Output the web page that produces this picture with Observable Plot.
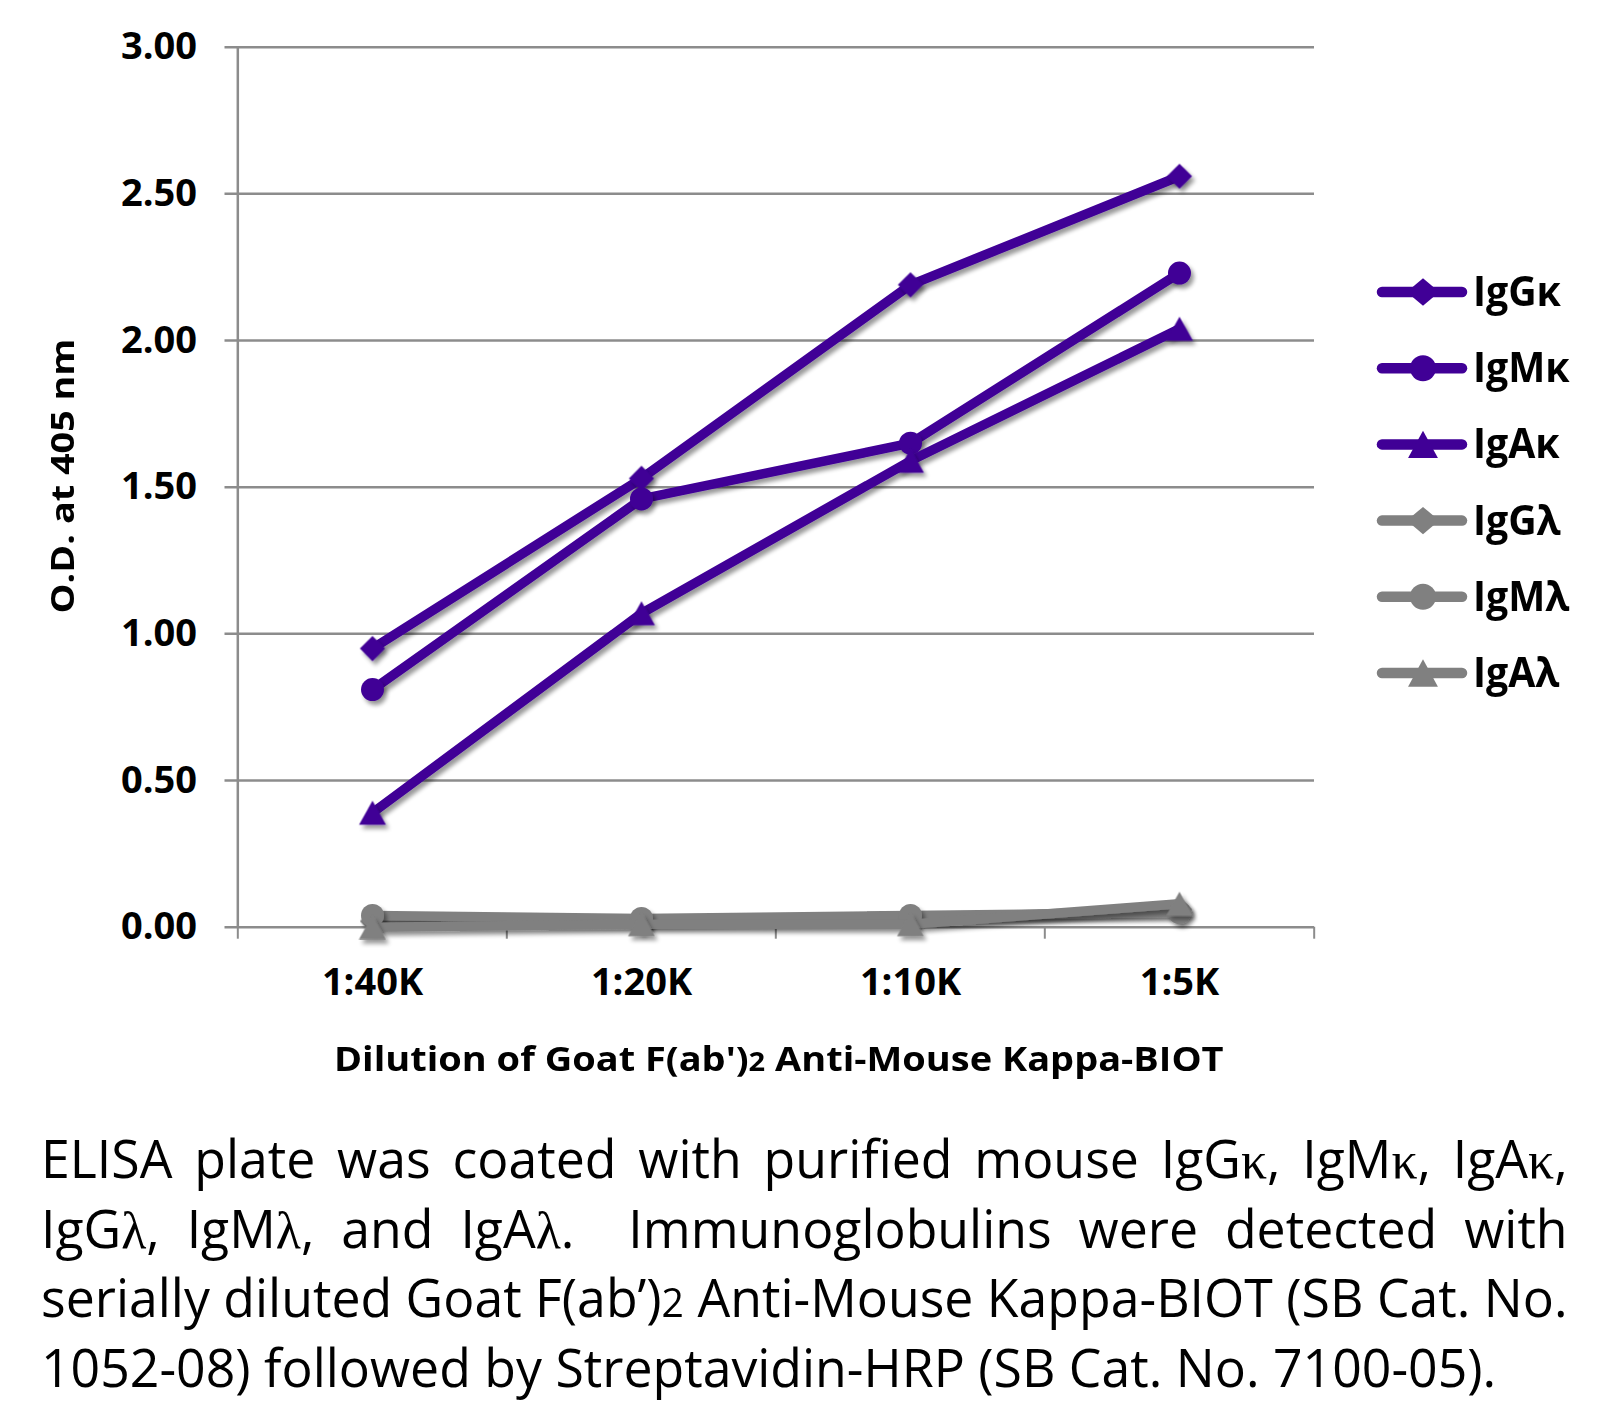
<!DOCTYPE html>
<html><head><meta charset="utf-8">
<script src="https://cdn.jsdelivr.net/npm/d3@7"></script>
<script src="https://cdn.jsdelivr.net/npm/@observablehq/plot@0.6"></script>
<style>
html,body{margin:0;padding:0;background:#fff;overflow:hidden}
#wrap{position:relative;width:1605px;height:1403px;background:#fff}
#wrap svg{position:absolute;left:0;top:0}
</style></head><body><div id="wrap"></div>
<script>
// ---- data ----
const dilutions = ["1:40K", "1:20K", "1:10K", "1:5K"];
const seriesNames = ["IgGκ", "IgMκ", "IgAκ", "IgGλ", "IgMλ", "IgAλ"];
const seriesShapes = ["diamond", "circle", "triangle", "diamond", "circle", "triangle"];
const seriesColors = ["#400096", "#400096", "#400096", "#808080", "#808080", "#808080"];
const IgGk = [0.95, 1.53, 2.19, 2.56];
const IgMk = [0.81, 1.46, 1.65, 2.23];
const IgAk = [0.39, 1.07, 1.59, 2.04];
const IgGl = [0.02, 0.02, 0.03, 0.06];
const IgMl = [0.04, 0.03, 0.04, 0.05];
const IgAl = [0.00, 0.01, 0.01, 0.08];
const seriesValues = [IgGk, IgMk, IgAk, IgGl, IgMl, IgAl];
const yTicks = [0, 0.5, 1, 1.5, 2, 2.5, 3];
const yLabel = "O.D. at 405 nm";
const xLabel = "Dilution of Goat F(ab')2 Anti-Mouse Kappa-BIOT";
const captionLines = [
  "ELISA plate was coated with purified mouse IgGκ, IgMκ, IgAκ,",
  "IgGλ, IgMλ, and IgAλ.  Immunoglobulins were detected with",
  "serially diluted Goat F(ab’)2 Anti-Mouse Kappa-BIOT (SB Cat. No.",
  "1052-08) followed by Streptavidin-HRP (SB Cat. No. 7100-05)."
];

// ---- build table ----
const rows = [];
seriesNames.forEach((s, i) => seriesValues[i].forEach((v, j) => rows.push({series: s, dilution: dilutions[j], value: v})));

// ---- symbols ----
function diamondSym(wf, hf) {
  return {draw(c, size) { const r = Math.sqrt(size / Math.PI); c.moveTo(0, -r * hf); c.lineTo(r * wf, 0); c.lineTo(0, r * hf); c.lineTo(-r * wf, 0); c.closePath(); }};
}
function triangleSym(wf, hf) {
  return {draw(c, size) { const r = Math.sqrt(size / Math.PI); c.moveTo(0, -r * hf); c.lineTo(r * wf, r * hf); c.lineTo(-r * wf, r * hf); c.closePath(); }};
}
const chartSymbols = {diamond: diamondSym(1.05, 1.05), circle: "circle", triangle: triangleSym(1.12, 1.0)};

// ---- layout ----
const W = 1605, H = 1010;
const mL = 236.5, mR = 291, mT = 46.7, mB = H - 926.7;
const step = (W - mL - mR) / dilutions.length;
const axisGrey = "#8c8c8c";

const seriesMarks = [];
seriesNames.forEach((s, i) => {
  const data = rows.filter(d => d.series === s);
  seriesMarks.push(Plot.line(data, {x: "dilution", y: "value", stroke: seriesColors[i], strokeWidth: 9.5, strokeLinecap: "round", strokeLinejoin: "round"}));
  seriesMarks.push(Plot.dot(data, {x: "dilution", y: "value", symbol: chartSymbols[seriesShapes[i]], r: seriesShapes[i] === "circle" ? 11.5 : 12, fill: seriesColors[i], stroke: "none"}));
});

const chart = Plot.plot({
  width: W, height: H,
  marginLeft: mL, marginRight: mR, marginTop: mT, marginBottom: mB,
  style: {fontFamily: "'Open Sans', sans-serif", fontSize: "38px", fontWeight: "700", color: "#000", background: "transparent", overflow: "visible"},
  x: {type: "point", domain: dilutions, padding: 0.5, tickSize: 0, tickPadding: 41, label: null},
  y: {domain: [0, 3], ticks: yTicks, tickFormat: d => d.toFixed(2), tickSize: 0, tickPadding: 40, label: null},
  marks: [
    Plot.ruleY(yTicks, {y: d => d, stroke: axisGrey, strokeWidth: 2.5, insetLeft: -12}),
    Plot.ruleX([dilutions[0]], {x: d => d, dx: -step / 2, stroke: axisGrey, strokeWidth: 2.5}),
    Plot.ruleX(dilutions, {x: d => d, y1: 0, y2: 0, dx: -step / 2, insetBottom: -12, stroke: axisGrey, strokeWidth: 2}),
    Plot.ruleX([dilutions[dilutions.length - 1]], {x: d => d, y1: 0, y2: 0, dx: step / 2, insetBottom: -12, stroke: axisGrey, strokeWidth: 2}),
    ...seriesMarks
  ]
});
const wrap = document.getElementById("wrap");
wrap.appendChild(chart);

// drop shadow for the series
const svg = d3.select(chart);
svg.insert("defs", ":first-child").html(
  '<filter id="ds" filterUnits="userSpaceOnUse" x="0" y="0" width="1605" height="1010">' +
  '<feGaussianBlur in="SourceAlpha" stdDeviation="2.2"/><feOffset dx="3" dy="4" result="o"/>' +
  '<feComponentTransfer><feFuncA type="linear" slope="0.4"/></feComponentTransfer>' +
  '<feMerge><feMergeNode/><feMergeNode in="SourceGraphic"/></feMerge></filter>');
svg.selectAll('g[aria-label="line"], g[aria-label="dot"]').attr("filter", "url(#ds)");

// ---- overlay text: axis titles, legend, caption ----
const ov = d3.select(wrap).append("svg").attr("width", W).attr("height", 1403)
  .style("font-family", "'Open Sans', sans-serif");

// y title
const yt = ov.append("text").attr("text-anchor", "middle").style("font-weight", 700).style("font-size", "32px").text(yLabel);
const kY = 275 / yt.node().getComputedTextLength();
yt.attr("transform", `translate(${63 + 11},476) rotate(-90) scale(${kY},1)`);

// x title (small subscript-like 2)
const xt = ov.append("text").style("font-weight", 700).style("font-size", "34px");
xLabel.split(/((?<=\))2)/).forEach(part => {
  if (part === "2") xt.append("tspan").style("font-size", "26px").text(part);
  else xt.append("tspan").text(part);
});
const kX = 890 / xt.node().getComputedTextLength();
xt.attr("transform", `translate(334,1071) scale(${kX},1)`);

// legend
const legX0 = 1377, legX1 = 1467, legMid = 1423, legTextX = 1473, legY0 = 292, legDY = 76.2;
const legSymbols = {diamond: diamondSym(1.25, 1.05), circle: d3.symbolCircle, triangle: triangleSym(1.15, 1.05)};
const legTexts = [];
seriesNames.forEach((s, i) => {
  const y = legY0 + i * legDY;
  const g = ov.append("g");
  g.append("line").attr("x1", legX0 + 5).attr("x2", legX1 - 5).attr("y1", y).attr("y2", y)
    .attr("stroke", seriesColors[i]).attr("stroke-width", 10.5).attr("stroke-linecap", "round");
  g.append("path").attr("transform", `translate(${legMid},${y})`)
    .attr("d", d3.symbol(legSymbols[seriesShapes[i]], 13 * 13 * Math.PI)()).attr("fill", seriesColors[i]);
  const t = g.append("text").attr("x", 0).attr("y", 0).style("font-weight", 700).style("font-size", "41px").text(s);
  legTexts.push([t, y]);
});
const kL = 88 / legTexts[0][0].node().getComputedTextLength();
legTexts.forEach(([t, y]) => t.attr("transform", `translate(${legTextX},${y + 14}) scale(${kL},1)`));

// caption
const capLeft = 41, capFull = 1527, capLast = 1456, capY0 = 1178, capDY = 69.6;
const capTexts = captionLines.map((line, i) => {
  const t = ov.append("text").style("font-size", "53px").style("font-weight", 400).style("white-space", "pre");
  line.split(/([κλ]|(?<=[’)])2(?= ))/).forEach(part => {
    if (!part) return;
    if (part === "κ" || part === "λ") t.append("tspan").style("font-family", "'Liberation Serif', serif").text(part);
    else if (part === "2") t.append("tspan").style("font-size", "40px").text(part);
    else t.append("tspan").text(part);
  });
  return t;
});
const ks = capTexts.map((t, i) => (i < 3 ? capFull : capLast) / t.node().getComputedTextLength());
const kC = Math.min(...ks);
capTexts.forEach((t, i) => {
  if (i < 3) {
    const nat = t.node().getComputedTextLength();
    const spaces = (captionLines[i].match(/ /g) || []).length;
    const ws = Math.max(0, (capFull / kC - nat) / spaces);
    t.style("word-spacing", ws + "px");
  }
  t.attr("transform", `translate(${capLeft},${capY0 + i * capDY}) scale(${kC},1)`);
});
</script></body></html>
